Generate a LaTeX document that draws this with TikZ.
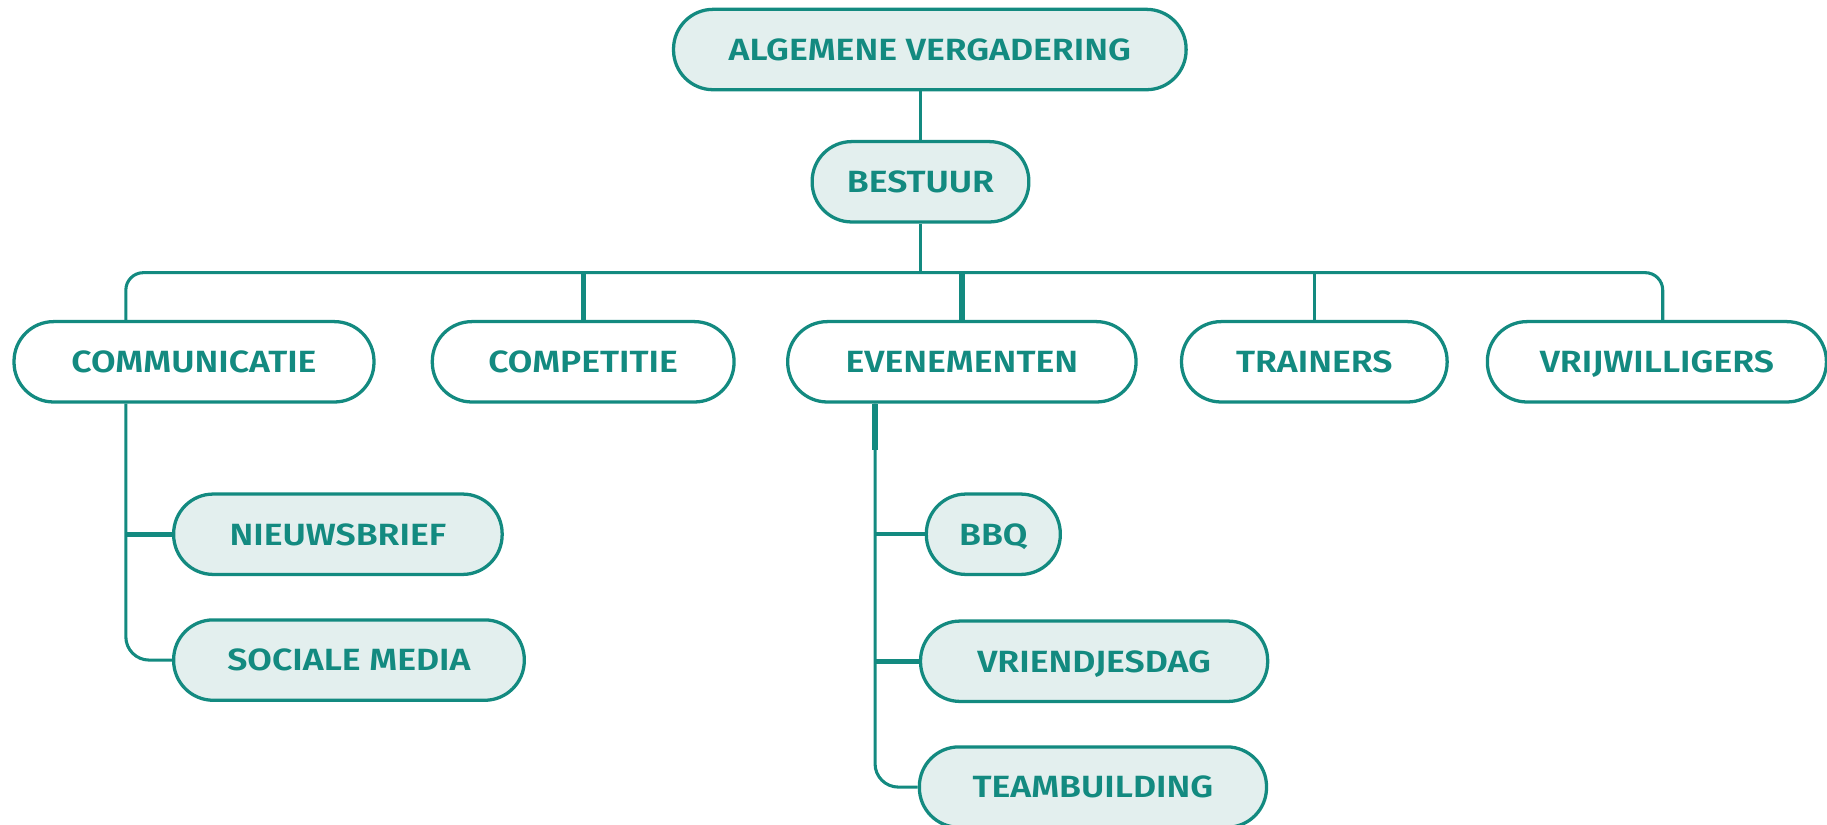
\documentclass[tikz,border=0pt]{standalone}
\usepackage{fontspec}
\setmainfont{Fira Sans SemiBold}[FakeStretch=1.16]
\definecolor{orgteal}{HTML}{138A80}
\definecolor{orgfill}{HTML}{E3EFEE}

\begin{document}
\begin{tikzpicture}[x=0.02cm, y=-0.02cm,
    box/.style={draw=orgteal, line width=1.6pt, rounded corners=0.68cm, minimum height=1.38cm,
      inner sep=0pt, text depth=0pt, text=orgteal, font=\fontsize{15}{18}\selectfont},
    boxfill/.style={box, fill=orgfill},
    link/.style={draw=orgteal, line width=1.5pt},
    stub/.style={link, line width=2.6pt}]
    \useasboundingbox (0,0) rectangle (1568,708);

    % top
    \path ( 798,  42.5) node [boxfill, minimum width=8.8cm] (alg) {ALGEMENE VERGADERING};
    \path ( 790, 156  ) node [boxfill, minimum width=3.72cm] (bestuur) {BESTUUR};

    % werkgroepen
    \path ( 166.5, 310.5) node [box, minimum width=6.18cm] (comm) {COMMUNICATIE};
    \path ( 500.5, 310.5) node [box, minimum width=5.18cm] (comp) {COMPETITIE};
    \path ( 825.5, 310.5) node [box, minimum width=5.98cm] (even) {EVENEMENTEN};
    \path (1128  , 310.5) node [box, minimum width=4.56cm] (train) {TRAINERS};
    \path (1422  , 310.5) node [box, minimum width=5.82cm] (vrij) {VRIJWILLIGERS};

    % communicatie
    \path ( 290  , 458.5) node [boxfill, minimum width=5.64cm] (nieuws) {NIEUWSBRIEF};
    \path ( 299.5, 566.5) node [boxfill, minimum width=6.02cm] (sociaal) {SOCIALE MEDIA};

    % evenementen
    \path ( 852.5, 458.5) node [boxfill, minimum width=2.3cm] (bbq) {BBQ};
    \path ( 939  , 567.5) node [boxfill, minimum width=5.96cm] (vriend) {VRIENDJESDAG};
    \path ( 938  , 675.5) node [boxfill, minimum width=5.96cm] (team) {TEAMBUILDING};

    \coordinate (busL) at ( 108, 234);
    \coordinate (busR) at (1427, 234);
    \coordinate (evL)  at ( 751, 345);

    \draw [link] (alg.south -| bestuur) -- (bestuur);
    \draw [link] (bestuur) -- (bestuur |- busL);
    \draw [link, rounded corners=0.3cm] (comm.north -| busL) -- (busL) -- (busR) -- (vrij.north -| busR);
    \draw [stub] (comp.north) -- (comp.north |- busL);
    \draw [stub] (even.north) -- (even.north |- busL);
    \draw [link] (train.north) -- (train.north |- busL);

    \draw [link, rounded corners=0.4cm] (comm.south -| busL) |- (sociaal.west);
    \draw [stub] (nieuws.west) -- (nieuws.west -| busL);

    \draw [link, rounded corners=0.4cm] (even.south -| evL) |- (team.west);
    \draw [stub] (even.south -| evL) -- ++(0,40);
    \draw [link, line width=2pt] (bbq.west) -- (bbq.west -| evL);
    \draw [stub] (vriend.west) -- (vriend.west -| evL);
\end{tikzpicture}
\end{document}
